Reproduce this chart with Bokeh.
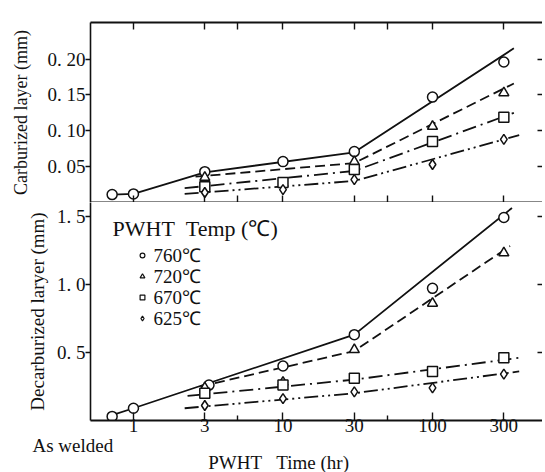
from bokeh.plotting import figure
from bokeh.models import (Range1d, FixedTicker, LogAxis, LinearAxis, Label,
                          Legend, LegendItem, Title)
from bokeh.layouts import column
from bokeh.embed import file_html
from bokeh.resources import INLINE

# ---------------- data ----------------
AS_WELDED = 0.72   # plotted position of the "As welded" condition
x_ticks = [1, 3, 10, 30, 100, 300]
x_minor = [5, 50]
temps = ["760\u2103", "720\u2103", "670\u2103", "625\u2103"]
markers = ["circle", "triangle", "square", "diamond"]
dashes = ["solid", "10 5", "14 5 2 5", "14 4 2 4 2 4"]

# Carburized layer (mm) - measured points
carb_760_x = [AS_WELDED, 1, 3, 10, 30, 100, 300]
carb_760_y = [0.011, 0.012, 0.043, 0.057, 0.071, 0.147, 0.196]
carb_720_x = [3, 30, 100, 300]
carb_720_y = [0.035, 0.057, 0.106, 0.153]
carb_670_x = [3, 10, 30, 100, 300]
carb_670_y = [0.022, 0.028, 0.046, 0.085, 0.119]
carb_625_x = [3, 10, 30, 100, 300]
carb_625_y = [0.014, 0.018, 0.032, 0.053, 0.088]
# Carburized layer - fitted lines
carb_fit_760_x = [AS_WELDED, 1, 3, 30, 350]
carb_fit_760_y = [0.011, 0.012, 0.042, 0.070, 0.215]
carb_fit_720_x = [2.6, 30, 350]
carb_fit_720_y = [0.036, 0.055, 0.166]
carb_fit_670_x = [2.2, 30, 350]
carb_fit_670_y = [0.020, 0.044, 0.125]
carb_fit_625_x = [2.2, 30, 380]
carb_fit_625_y = [0.012, 0.030, 0.094]

# Decarburized layer (mm) - measured points
dec_760_x = [AS_WELDED, 1, 3.2, 10, 30, 100, 300]
dec_760_y = [0.03, 0.09, 0.26, 0.40, 0.63, 0.97, 1.49]
dec_720_x = [3, 10, 30, 100, 300]
dec_720_y = [0.24, 0.28, 0.52, 0.86, 1.23]
dec_670_x = [3, 10, 30, 100, 300]
dec_670_y = [0.20, 0.26, 0.31, 0.36, 0.46]
dec_625_x = [3, 10, 30, 100, 300]
dec_625_y = [0.11, 0.16, 0.21, 0.24, 0.34]
# Decarburized layer - fitted lines
dec_fit_760_x = [AS_WELDED, 1, 30, 340]
dec_fit_760_y = [0.04, 0.09, 0.63, 1.56]
dec_fit_720_x = [2.8, 30, 330]
dec_fit_720_y = [0.25, 0.51, 1.28]
dec_fit_670_x = [2.3, 30, 380]
dec_fit_670_y = [0.18, 0.30, 0.46]
dec_fit_625_x = [2.2, 30, 380]
dec_fit_625_y = [0.09, 0.20, 0.36]

carb_ticks = [0.05, 0.10, 0.15, 0.20]
carb_tick_labels = ["0.\u00a005", "0.\u00a010", "0.\u00a015", "0.\u00a020"]
dec_ticks = [0.5, 1.0, 1.5]
dec_tick_labels = ["0.\u00a05", "1.\u00a00", "1.\u00a05"]

FONT = "Liberation Serif"
INK = "#111111"
NAN = float("nan")
NB = "\u00a0"

x_range = Range1d(0.516, 544)

# legend layout (screen px inside the lower frame)
LEG_X = 46          # left of legend glyph column
LEG_BOTTOM = 92     # bottom of legend box above frame bottom
LEG_ROW = 21        # row height
LEG_TEXT_X = 63     # left of legend texts


def style_left(ax, ticks, labels, label_size):
    ax.ticker = FixedTicker(ticks=ticks)
    ax.major_label_overrides = {t: l for t, l in zip(ticks, labels)}
    ax.major_label_text_font = FONT
    ax.major_label_text_font_size = "19px"
    ax.major_label_text_color = INK
    ax.major_label_standoff = 0
    ax.major_tick_in = 0
    ax.major_tick_out = 5
    ax.minor_tick_line_alpha = 0
    ax.axis_line_width = 1.6
    ax.axis_line_color = INK
    ax.major_tick_line_width = 1.4
    ax.major_tick_line_color = INK
    ax.axis_label_text_font = FONT
    ax.axis_label_text_font_style = "normal"
    ax.axis_label_text_font_size = label_size
    ax.axis_label_text_color = INK


def add_right(p, ticks):
    # tick marks only (drawn as minor ticks so that no labels exist)
    ax = LinearAxis(ticker=FixedTicker(ticks=[], minor_ticks=ticks))
    ax.minor_tick_in = 5
    ax.minor_tick_out = 0
    ax.major_tick_line_alpha = 0
    ax.axis_line_alpha = 0
    ax.minor_tick_line_width = 1.4
    ax.minor_tick_line_color = INK
    p.add_layout(ax, "right")


def tick_only_log_axis(p, place):
    ax = LogAxis(ticker=FixedTicker(ticks=[], minor_ticks=x_ticks + x_minor))
    ax.major_tick_line_alpha = 0
    ax.minor_tick_in = 7
    ax.minor_tick_out = 0
    ax.axis_line_width = 1.8
    ax.axis_line_color = INK
    ax.minor_tick_line_width = 1.4
    ax.minor_tick_line_color = INK
    p.add_layout(ax, place)


# ---------------- top panel ----------------
p1 = figure(frame_width=452, frame_height=180, x_axis_type="log",
            x_range=x_range, y_range=Range1d(0, 0.251),
            x_axis_location=None, output_backend="svg", toolbar_location=None,
            min_border_left=90, min_border_right=0, min_border_top=22,
            min_border_bottom=0)
p1.grid.visible = False
p1.outline_line_alpha = 0
style_left(p1.yaxis[0], carb_ticks, carb_tick_labels, "18px")
p1.yaxis[0].axis_label = "Carburized layer (mm)"
p1.yaxis[0].axis_label_standoff = 14
add_right(p1, carb_ticks)
tick_only_log_axis(p1, "above")
tick_only_log_axis(p1, "below")

carb_fits = [(carb_fit_760_x, carb_fit_760_y), (carb_fit_720_x, carb_fit_720_y),
             (carb_fit_670_x, carb_fit_670_y), (carb_fit_625_x, carb_fit_625_y)]
carb_pts = [(carb_760_x, carb_760_y), (carb_720_x, carb_720_y),
            (carb_670_x, carb_670_y), (carb_625_x, carb_625_y)]
for (fx, fy), d in zip(carb_fits, dashes):
    p1.line(fx, fy, line_color=INK, line_width=1.8, line_dash=d)
for (px, py), m in zip(carb_pts, markers):
    p1.scatter(px, py, marker=m, size=10, fill_color="white",
               line_color=INK, line_width=1.5)

# ---------------- bottom panel ----------------
p2 = figure(frame_width=452, frame_height=218, x_axis_type="log",
            x_range=x_range, y_range=Range1d(0, 1.6),
            output_backend="svg", toolbar_location=None,
            min_border_left=90, min_border_right=0, min_border_top=0,
            min_border_bottom=52)
p2.grid.visible = False
p2.outline_line_alpha = 0
style_left(p2.yaxis[0], dec_ticks, dec_tick_labels, "19px")
p2.yaxis[0].axis_label = "Decarburized laryer (mm)"
p2.yaxis[0].axis_label_standoff = 6
add_right(p2, dec_ticks)

xa = p2.xaxis[0]
xa.ticker = FixedTicker(ticks=x_ticks, minor_ticks=x_minor)
xa.major_label_overrides = {t: str(t) for t in x_ticks}
xa.major_label_text_font = FONT
xa.major_label_text_font_size = "19px"
xa.major_label_text_color = INK
xa.major_label_standoff = -2
xa.major_tick_in = 8
xa.major_tick_out = 0
xa.minor_tick_in = 5
xa.minor_tick_out = 0
xa.axis_line_width = 1.8
xa.axis_line_color = INK
xa.major_tick_line_width = 1.4
xa.minor_tick_line_width = 1.4
xa.major_tick_line_color = INK
xa.minor_tick_line_color = INK

# "As welded" and the x-axis title, as a two-line title under the axis
xtitle = Title(text="As welded\n" + NB * 37 + "PWHT" + NB * 3 + "Time" + NB
               + "(hr)",
               align="left", offset=-58, standoff=-3, vertical_align="bottom",
               text_font=FONT, text_font_size="19px",
               text_font_style="normal", text_color=INK,
               text_line_height=0.8)
p2.add_layout(xtitle, "below")

dec_fits = [(dec_fit_760_x, dec_fit_760_y), (dec_fit_720_x, dec_fit_720_y),
            (dec_fit_670_x, dec_fit_670_y), (dec_fit_625_x, dec_fit_625_y)]
dec_pts = [(dec_760_x, dec_760_y), (dec_720_x, dec_720_y),
           (dec_670_x, dec_670_y), (dec_625_x, dec_625_y)]
for (fx, fy), d in zip(dec_fits, dashes):
    p2.line(fx, fy, line_color=INK, line_width=1.8, line_dash=d)
for (px, py), m in zip(dec_pts, markers):
    p2.scatter(px, py, marker=m, size=10, fill_color="white",
               line_color=INK, line_width=1.5)

# legend: marker column from Bokeh's Legend, texts as labels beside it
items = []
for t, m in zip(temps, markers):
    r = p2.scatter(x=[NAN], y=[NAN], marker=m, size=7, fill_color="white",
                   line_color=INK, line_width=1.2)
    items.append(LegendItem(label=NB, renderers=[r]))
legend = Legend(items=items, location=(LEG_X, LEG_BOTTOM), padding=0,
                margin=0, spacing=0, label_height=LEG_ROW,
                glyph_width=12, glyph_height=12, label_standoff=0,
                border_line_alpha=0, background_fill_alpha=0,
                label_text_font=FONT, label_text_font_size="8px",
                label_text_color=INK)
p2.add_layout(legend)
for i, t in enumerate(temps):
    row_center = LEG_BOTTOM + LEG_ROW * (len(temps) - i - 0.5)
    p2.add_layout(Label(x=LEG_TEXT_X, y=row_center, x_units="screen",
                        y_units="screen", text=t, text_font=FONT,
                        text_font_size="19px", text_color=INK,
                        text_baseline="middle", text_align="left"))

p2.add_layout(Label(x=22, y=205, x_units="screen", y_units="screen",
                    text="PWHT" + NB * 2 + "Temp" + NB + "(\u2103)",
                    text_font=FONT, text_font_size="22px", text_color=INK,
                    text_baseline="top", text_align="left"))

layout = column(p1, p2, spacing=0)
open("out.html", "w").write(file_html(layout, INLINE))
